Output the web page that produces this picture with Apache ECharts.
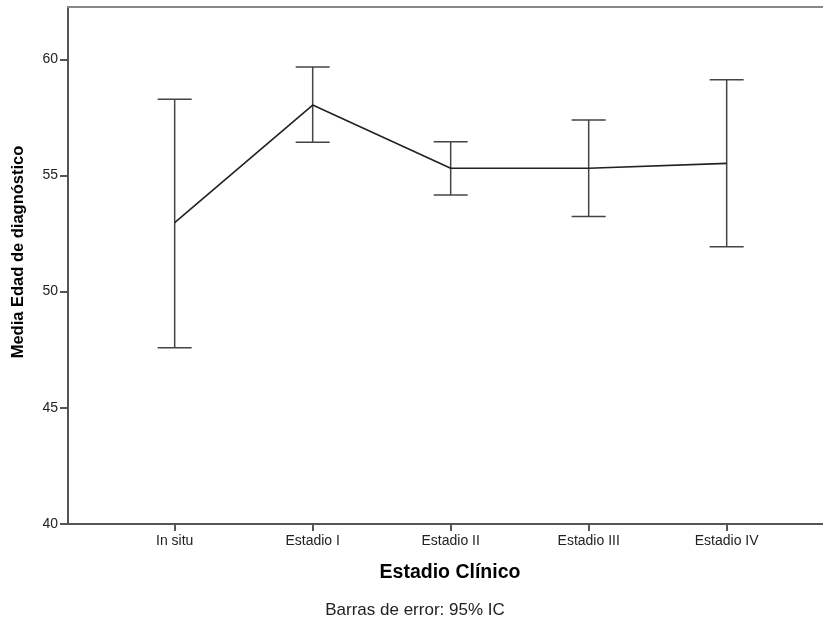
<!DOCTYPE html>
<html>
<head>
<meta charset="utf-8">
<script src="https://cdn.jsdelivr.net/npm/echarts@6/dist/echarts.min.js"></script>
<style>
  html, body { margin: 0; padding: 0; background: #fff; }
  #chart { width: 823px; height: 621px; }
</style>
</head>
<body>
<div id="chart"></div>
<script>
// ---- data ----
const categories = ['In situ', 'Estadio I', 'Estadio II', 'Estadio III', 'Estadio IV'];
const means = [52.97, 58.03, 55.31, 55.31, 55.52];
const lowerCI = [47.59, 56.43, 54.16, 53.23, 51.93];
const upperCI = [58.28, 59.67, 56.45, 57.39, 59.12];
const yTicks = [40, 45, 50, 55, 60];
const xAxisTitle = 'Estadio Clínico';
const yAxisTitle = 'Media Edad de diagnóstico';
const footnote = 'Barras de error: 95% IC';

const FONT = '"Liberation Sans", Arial, sans-serif';
const catIdx = categories.map((c, i) => i);

const chart = echarts.init(document.getElementById('chart'), null, { renderer: 'canvas' });

const errData = catIdx.map(i => [i, lowerCI[i], upperCI[i]]);
const lineData = catIdx.map(i => [i, means[i]]);

const option = {
  animation: false,
  backgroundColor: '#ffffff',
  grid: { left: 68, right: 0, top: 7, bottom: 97, containLabel: false },
  xAxis: [{
    type: 'value',
    min: -0.773,
    max: 4.698,
    splitLine: { show: false },
    axisLine: { show: true, onZero: false, lineStyle: { color: '#555', width: 2 } },
    axisTick: { show: true, length: 7, customValues: catIdx, lineStyle: { color: '#555', width: 2 } },
    axisLabel: {
      customValues: catIdx,
      formatter: v => categories[Math.round(v)] || '',
      color: '#222', fontSize: 14, fontFamily: FONT, margin: 10
    }
  }, {
    type: 'value',
    position: 'top',
    min: -0.773,
    max: 4.698,
    splitLine: { show: false },
    axisLine: { show: true, onZero: false, lineStyle: { color: '#888', width: 2 } },
    axisTick: { show: false },
    axisLabel: { show: false }
  }],
  yAxis: {
    type: 'value',
    min: 40,
    max: 62.25,
    splitLine: { show: false },
    axisLine: { show: true, onZero: false, lineStyle: { color: '#555', width: 2 } },
    axisTick: { show: true, length: 8, customValues: yTicks, lineStyle: { color: '#555', width: 2 } },
    axisLabel: { customValues: yTicks, color: '#222', fontSize: 14, fontFamily: FONT, margin: 10 }
  },
  series: [{
    type: 'custom',
    xAxisIndex: 0,
    data: errData,
    z: 3,
    renderItem: function (params, api) {
      const x = api.value(0);
      const top = api.coord([x, api.value(2)]);
      const bot = api.coord([x, api.value(1)]);
      const hw = 17;
      const st = { stroke: '#444', lineWidth: 1.5 };
      return {
        type: 'group',
        children: [
          { type: 'line', shape: { x1: top[0], y1: top[1], x2: bot[0], y2: bot[1] }, style: st },
          { type: 'line', shape: { x1: top[0] - hw, y1: top[1], x2: top[0] + hw, y2: top[1] }, style: st },
          { type: 'line', shape: { x1: bot[0] - hw, y1: bot[1], x2: bot[0] + hw, y2: bot[1] }, style: st }
        ]
      };
    }
  }, {
    type: 'line',
    xAxisIndex: 0,
    data: lineData,
    symbol: 'none',
    z: 4,
    lineStyle: { color: '#222', width: 1.6 }
  }],
  graphic: [{
    type: 'text',
    x: 18, y: 252,
    rotation: Math.PI / 2,
    style: {
      text: yAxisTitle, font: 'bold 16.5px ' + FONT, fill: '#000',
      align: 'center', verticalAlign: 'middle'
    }
  }, {
    type: 'text',
    x: 450, y: 573,
    style: {
      text: xAxisTitle, font: 'bold 19.5px ' + FONT, fill: '#000',
      align: 'center', verticalAlign: 'middle'
    }
  }, {
    type: 'text',
    x: 415, y: 610,
    style: {
      text: footnote, font: '17px ' + FONT, fill: '#222',
      align: 'center', verticalAlign: 'middle'
    }
  }]
};

chart.setOption(option);
</script>
</body>
</html>
